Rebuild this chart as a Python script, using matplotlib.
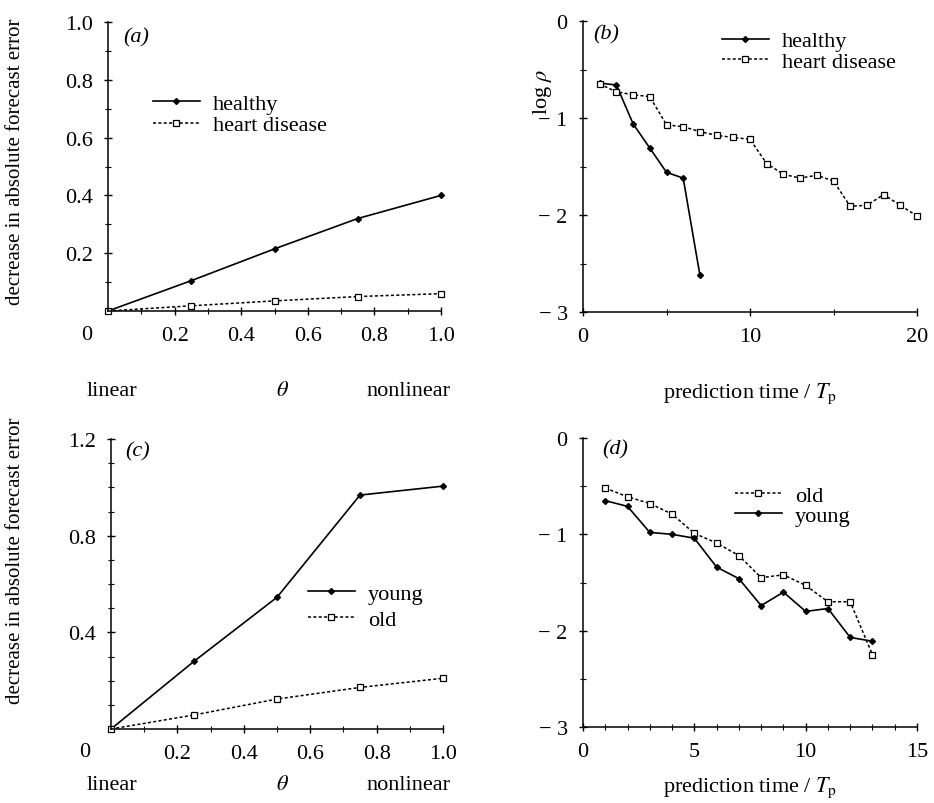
import numpy as np
import matplotlib
matplotlib.use('Agg')
import matplotlib.pyplot as plt
from matplotlib.ticker import MultipleLocator

plt.rcParams['font.family'] = ['Liberation Serif', 'DejaVu Serif']
plt.rcParams['mathtext.fontset'] = 'stix'

# (a) decrease in forecast error vs theta
theta = [0.0, 0.25, 0.5, 0.75, 1.0]
a_healthy = [0.0, 0.105, 0.215, 0.32, 0.40]
a_heart = [0.0, 0.018, 0.035, 0.050, 0.060]

# (b) log rho vs prediction time
b_t_healthy = [1, 2, 3, 4, 5, 6, 7]
b_healthy = [-0.64, -0.66, -1.06, -1.31, -1.56, -1.62, -2.62]
b_t_heart = list(range(1, 21))
b_heart = [-0.65, -0.73, -0.76, -0.78, -1.07, -1.09, -1.14, -1.18, -1.20, -1.22,
           -1.47, -1.58, -1.62, -1.59, -1.65, -1.91, -1.90, -1.79, -1.90, -2.01]

# (c)
c_young = [0.0, 0.28, 0.545, 0.968, 1.005]
c_old = [0.0, 0.058, 0.124, 0.172, 0.21]

# (d)
d_t = list(range(1, 14))
d_old = [-0.52, -0.61, -0.68, -0.79, -0.99, -1.09, -1.22, -1.45, -1.42, -1.53,
         -1.70, -1.70, -2.25]
d_young = [-0.65, -0.71, -0.98, -1.00, -1.04, -1.34, -1.46, -1.74, -1.60, -1.80,
           -1.77, -2.07, -2.11]

W, H = 934, 804
fig = plt.figure(figsize=(W / 100, H / 100), dpi=100)

def box(l, r, top, bot):
    return [l / W, 1 - bot / H, (r - l) / W, (bot - top) / H]

ax_a = fig.add_axes(box(108, 441, 23, 312))
ax_b = fig.add_axes(box(583, 917, 22, 313))
ax_c = fig.add_axes(box(111, 443, 440, 730))
ax_d = fig.add_axes(box(583, 917, 439, 728))

solid = dict(color='black', lw=1.2, ls='-', marker='D', ms=3.0,
             mfc='black', mec='black', clip_on=False)
dashed = dict(color='black', lw=1.1, ls=(0, (2.0, 1.5)), marker='s', ms=4,
              mfc='white', mec='black', mew=0.9, clip_on=False)

FS = 16
leg_kw = dict(frameon=False, fontsize=FS, handlelength=2.1, handletextpad=0.6,
              borderpad=0, borderaxespad=0, loc='upper left')

for ax in (ax_a, ax_b, ax_c, ax_d):
    for s in ('top', 'right'):
        ax.spines[s].set_visible(False)
    for s in ('left', 'bottom'):
        ax.spines[s].set_linewidth(1.1)
    ax.tick_params(which='major', direction='inout', length=6, width=1,
                   labelsize=FS, pad=8)
    ax.tick_params(which='minor', direction='inout', length=4, width=0.8)

# (a)
ax_a.plot(theta, a_healthy, label='healthy', **solid)
ax_a.plot(theta, a_heart, label='heart disease', **dashed)
ax_a.set_xlim(0, 1.0)
ax_a.set_ylim(0, 1.0)
ax_a.set_xticks([0.2, 0.4, 0.6, 0.8, 1.0], ['0.2', '0.4', '0.6', '0.8', '1.0'])
ax_a.set_yticks([0.2, 0.4, 0.6, 0.8, 1.0], ['0.2', '0.4', '0.6', '0.8', '1.0'])
ax_a.xaxis.set_minor_locator(MultipleLocator(0.1))
ax_a.yaxis.set_minor_locator(MultipleLocator(0.1))
ax_a.text(0.045, 0.983, '(a)', transform=ax_a.transAxes, fontsize=FS,
          style='italic', va='top')
ax_a.set_ylabel('decrease in absolute forecast error', fontsize=15)
ax_a.yaxis.set_label_coords(-0.25, 0.52)
ax_a.legend(bbox_to_anchor=(0.135, 0.754), labelspacing=0.05, **leg_kw)

# (b)
ax_b.plot(b_t_healthy, b_healthy, label='healthy', **solid)
ax_b.plot(b_t_heart, b_heart, label='heart disease', **dashed)
ax_b.set_xlim(0, 20)
ax_b.set_ylim(-3, 0)
ax_b.set_xticks([0, 10, 20])
ax_b.set_yticks([0, -1, -2, -3], ['0', '− 1', '− 2', '− 3'])
ax_b.xaxis.set_minor_locator(MultipleLocator(5))
ax_b.yaxis.set_minor_locator(MultipleLocator(0.5))
ax_b.text(0.03, 0.99, '(b)', transform=ax_b.transAxes, fontsize=FS,
          style='italic', va='top')
fig.text(543 / W, 1 - 92 / H, r'log $\rho$', fontsize=FS, rotation=90,
         ha='center', va='center')
ax_b.set_xlabel(r'prediction time / $T_{\mathrm{p}}$', fontsize=FS)
ax_b.xaxis.set_label_coords(0.5, -0.237)
ax_b.legend(bbox_to_anchor=(0.416, 0.966), labelspacing=0.0, **leg_kw)

# (c)
ax_c.plot(theta, c_young, label='young', **solid)
ax_c.plot(theta, c_old, label='old', **dashed)
ax_c.set_xlim(0, 1.0)
ax_c.set_ylim(0, 1.2)
ax_c.set_xticks([0.2, 0.4, 0.6, 0.8, 1.0], ['0.2', '0.4', '0.6', '0.8', '1.0'])
ax_c.set_yticks([0.4, 0.8, 1.2], ['0.4', '0.8', '1.2'])
ax_c.xaxis.set_minor_locator(MultipleLocator(0.1))
ax_c.yaxis.set_minor_locator(MultipleLocator(0.1))
ax_c.text(0.042, 0.993, '(c)', transform=ax_c.transAxes, fontsize=FS,
          style='italic', va='top')
ax_c.set_ylabel('decrease in absolute forecast error', fontsize=15)
ax_c.yaxis.set_label_coords(-0.259, 0.583)
ax_c.legend(bbox_to_anchor=(0.593, 0.503), labelspacing=0.25, **leg_kw)

# (d)
ax_d.plot(d_t, d_old, label='old', **dashed)
ax_d.plot(d_t, d_young, label='young', **solid)
ax_d.set_xlim(0, 15)
ax_d.set_ylim(-3, 0)
ax_d.set_xticks([0, 5, 10, 15])
ax_d.set_yticks([0, -1, -2, -3], ['0', '− 1', '− 2', '− 3'])
ax_d.xaxis.set_minor_locator(MultipleLocator(1))
ax_d.yaxis.set_minor_locator(MultipleLocator(0.5))
ax_d.text(0.057, 0.997, '(d)', transform=ax_d.transAxes, fontsize=FS,
          style='italic', va='top')
ax_d.set_xlabel(r'prediction time / $T_{\mathrm{p}}$', fontsize=FS)
ax_d.xaxis.set_label_coords(0.5, -0.163)
ax_d.legend(bbox_to_anchor=(0.455, 0.837), labelspacing=0.0, **leg_kw)

# corner zero and theta axis words for (a) and (c)
for xz, yrow, yword in ((87, 335, 392), (85, 753, 786)):
    fig.text(xz / W, 1 - yrow / H, '0', fontsize=FS, ha='center', va='center')
    fig.text(112 / W, 1 - yword / H, 'linear', fontsize=FS, ha='center', va='center')
    fig.text(283 / W, 1 - yword / H, r'$\theta$', fontsize=FS, ha='center', va='center')
    fig.text(408 / W, 1 - yword / H, 'nonlinear', fontsize=FS, ha='center', va='center')

fig.savefig('out.png', dpi=100)
